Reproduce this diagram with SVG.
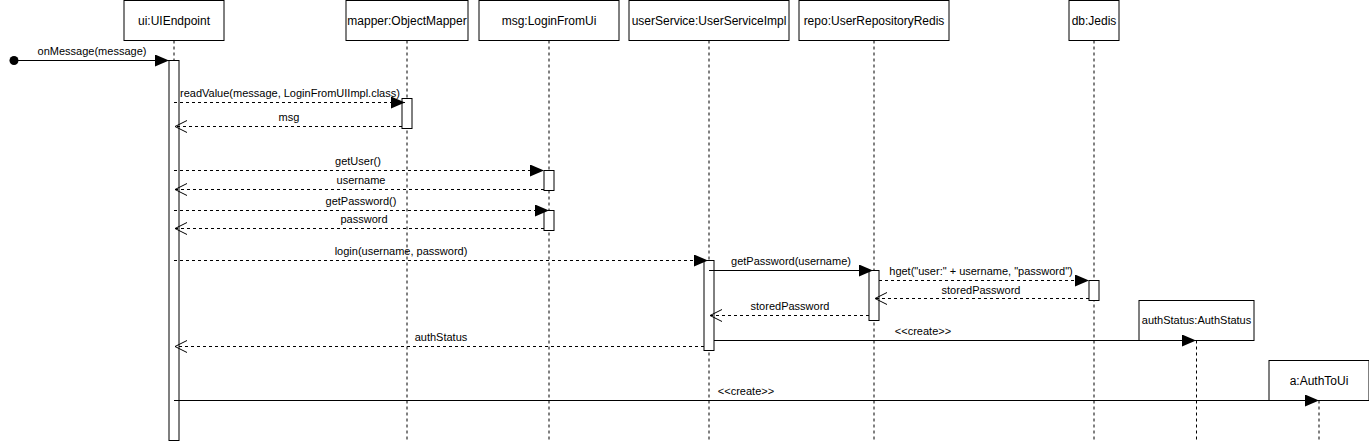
<svg xmlns="http://www.w3.org/2000/svg" width="1369" height="441" viewBox="0 0 1369 441">
<style>
.box{fill:#fff;stroke:#000;stroke-width:1}
.act{fill:#fff;stroke:#000;stroke-width:1}
.life{stroke:#000;stroke-width:1;stroke-dasharray:3 3;fill:none}
.t{font-family:"Liberation Sans",Arial,sans-serif;font-size:12px;fill:#000;text-anchor:middle}
.l{font-family:"Liberation Sans",Arial,sans-serif;font-size:11px;fill:#000;text-anchor:middle}
.msg{stroke:#000;stroke-width:1;fill:none}
.dash{stroke-dasharray:3 3}
</style>
<defs>
<marker id="fa" markerWidth="16" markerHeight="14" refX="14" refY="6" orient="auto" markerUnits="userSpaceOnUse">
<path d="M0,0 L14,6 L0,12 Z" fill="#000"/>
</marker>
<marker id="oa" markerWidth="16" markerHeight="14" refX="13" refY="7" orient="auto" markerUnits="userSpaceOnUse">
<path d="M1,1 L13,7 L1,13" fill="none" stroke="#000" stroke-width="1"/>
</marker>
</defs>
<rect width="1369" height="441" fill="#fff"/>

<g id="ui">
<rect class="box" x="124" y="0.5" width="100" height="40"/>
<text class="t" x="174" y="24.5">ui:UIEndpoint</text>
<line class="life" x1="174" y1="40.5" x2="174" y2="441"/>
<rect class="act" x="169" y="60.5" width="10" height="380"/>
</g>
<g id="mapper">
<rect class="box" x="346" y="0.5" width="122" height="40"/>
<text class="t" x="407" y="24.5">mapper:ObjectMapper</text>
<line class="life" x1="407" y1="40.5" x2="407" y2="441"/>
<rect class="act" x="402" y="98.5" width="10" height="30"/>
</g>
<g id="msg">
<rect class="box" x="479" y="0.5" width="140" height="40"/>
<text class="t" x="549" y="24.5">msg:LoginFromUi</text>
<line class="life" x1="549" y1="40.5" x2="549" y2="441"/>
<rect class="act" x="544" y="170.5" width="10" height="20"/>
<rect class="act" x="544" y="210.5" width="10" height="20"/>
</g>
<g id="userService">
<rect class="box" x="629" y="0.5" width="160" height="40"/>
<text class="t" x="709" y="24.5">userService:UserServiceImpl</text>
<line class="life" x1="709" y1="40.5" x2="709" y2="441"/>
<rect class="act" x="704" y="260.5" width="10" height="90"/>
</g>
<g id="repo">
<rect class="box" x="799" y="0.5" width="150" height="40"/>
<text class="t" x="874" y="24.5">repo:UserRepositoryRedis</text>
<line class="life" x1="874" y1="40.5" x2="874" y2="441"/>
<rect class="act" x="869" y="270.5" width="10" height="50"/>
</g>
<g id="db">
<rect class="box" x="1069" y="0.5" width="50" height="40"/>
<text class="t" x="1094" y="24.5">db:Jedis</text>
<line class="life" x1="1094" y1="40.5" x2="1094" y2="441"/>
<rect class="act" x="1089" y="280.5" width="10" height="20"/>
</g>
<g id="authStatus">
<rect class="box" x="1139" y="300.5" width="115" height="40"/>
<text class="l" x="1196.5" y="324">authStatus:AuthStatus</text>
<line class="life" x1="1196.5" y1="340.5" x2="1196.5" y2="441"/>
</g>
<g id="authToUi">
<rect class="box" x="1269" y="360.5" width="100" height="40"/>
<text class="t" x="1319" y="384.5">a:AuthToUi</text>
<line class="life" x1="1319" y1="400.5" x2="1319" y2="441"/>
</g>

<g id="connectors">
<circle cx="14" cy="60.5" r="4.5" fill="#000"/>
<line class="msg" x1="14" y1="60.5" x2="169" y2="60.5" marker-end="url(#fa)"/>
<text class="l" x="92" y="54.5">onMessage(message)</text>

<line class="msg dash" x1="174" y1="102.5" x2="405" y2="102.5" marker-end="url(#fa)"/>
<text class="l" x="180" y="96.5" style="text-anchor:start">readValue(message, LoginFromUIImpl.class)</text>
<line class="msg dash" x1="402" y1="126.5" x2="175" y2="126.5" marker-end="url(#oa)"/>
<text class="l" x="289" y="120.5">msg</text>

<line class="msg dash" x1="174" y1="170.5" x2="544" y2="170.5" marker-end="url(#fa)"/>
<text class="l" x="358" y="164.5">getUser()</text>
<line class="msg dash" x1="544" y1="189.5" x2="175" y2="189.5" marker-end="url(#oa)"/>
<text class="l" x="361" y="183.5">username</text>
<line class="msg dash" x1="174" y1="210.5" x2="549" y2="210.5" marker-end="url(#fa)"/>
<text class="l" x="361" y="204.5">getPassword()</text>
<line class="msg dash" x1="544" y1="228.5" x2="175" y2="228.5" marker-end="url(#oa)"/>
<text class="l" x="364" y="222.5">password</text>

<line class="msg dash" x1="174" y1="260.5" x2="708" y2="260.5" marker-end="url(#fa)"/>
<text class="l" x="401" y="254.5">login(username, password)</text>
<line class="msg" x1="709" y1="270.5" x2="873" y2="270.5" marker-end="url(#fa)"/>
<text class="l" x="791" y="264.5">getPassword(username)</text>
<line class="msg dash" x1="879" y1="280.5" x2="1089" y2="280.5" marker-end="url(#fa)"/>
<text class="l" x="981" y="274.5">hget("user:" + username, "password")</text>
<line class="msg dash" x1="1089" y1="298.5" x2="875" y2="298.5" marker-end="url(#oa)"/>
<text class="l" x="981" y="293.5">storedPassword</text>
<line class="msg dash" x1="869" y1="315.5" x2="710" y2="315.5" marker-end="url(#oa)"/>
<text class="l" x="790" y="309.5">storedPassword</text>

<line class="msg" x1="714" y1="340.5" x2="1196" y2="340.5" marker-end="url(#fa)"/>
<text class="l" x="923" y="334.5">&lt;&lt;create&gt;&gt;</text>
<line class="msg dash" x1="704" y1="346.5" x2="175" y2="346.5" marker-end="url(#oa)"/>
<text class="l" x="441" y="340.5">authStatus</text>

<line class="msg" x1="174" y1="400.5" x2="1319" y2="400.5" marker-end="url(#fa)"/>
<text class="l" x="746" y="394.5">&lt;&lt;create&gt;&gt;</text>
</g>
</svg>
